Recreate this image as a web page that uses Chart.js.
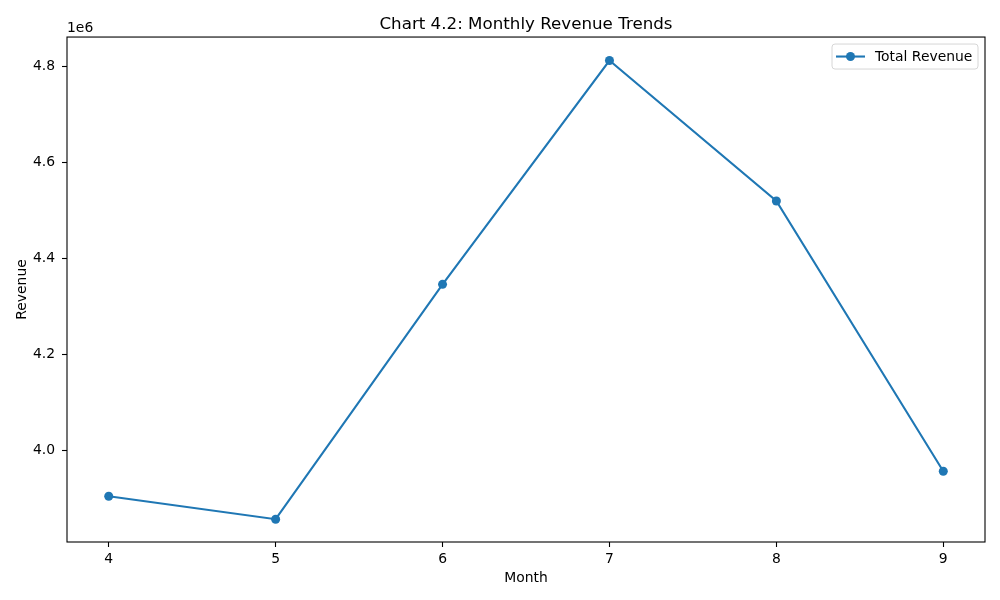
<!DOCTYPE html>
<html>
<head>
<meta charset="utf-8">
<script src="https://cdn.jsdelivr.net/npm/chart.js@4"></script>
<style>
  body { margin: 0; background: #fff; }
  #wrap { width: 1000px; height: 600px; }
</style>
</head>
<body>
<div id="wrap"><canvas id="chart"></canvas></div>
<script>
// values
const months = [4, 5, 6, 7, 8, 9];
const revenue = [3904000, 3856000, 4346000, 4813000, 4520000, 3956000];
const xTicks = [4, 5, 6, 7, 8, 9];
const yTicks = [4.0e6, 4.2e6, 4.4e6, 4.6e6, 4.8e6];

const FONT = "'DejaVu Sans', sans-serif";
const BLUE = "#1f77b4";

// axes frame, offset text and the inside legend (matplotlib style)
const extras = {
  id: "extras",
  afterDraw(chart) {
    const { ctx, chartArea: a } = chart;
    ctx.save();
    ctx.strokeStyle = "#000";
    ctx.lineWidth = 1.1;
    ctx.strokeRect(a.left, a.top, a.right - a.left, a.bottom - a.top);

    ctx.fillStyle = "#000";
    ctx.font = "13.9px " + FONT;
    ctx.textAlign = "left";
    ctx.textBaseline = "bottom";
    ctx.fillText("1e6", a.left, a.top - 2);

    // legend
    const ds = chart.data.datasets[0];
    const bx = a.right - 153, by = a.top + 7, bw = 146, bh = 25;
    ctx.beginPath();
    ctx.roundRect(bx, by, bw, bh, 3);
    ctx.fillStyle = "rgba(255,255,255,0.8)";
    ctx.fill();
    ctx.strokeStyle = "#d6d6d6";
    ctx.lineWidth = 1;
    ctx.stroke();
    const ly = by + bh / 2;
    ctx.strokeStyle = BLUE;
    ctx.lineWidth = 2.1;
    ctx.beginPath();
    ctx.moveTo(bx + 4, ly);
    ctx.lineTo(bx + 33, ly);
    ctx.stroke();
    ctx.fillStyle = BLUE;
    ctx.beginPath();
    ctx.arc(bx + 18.5, ly, 4.5, 0, Math.PI * 2);
    ctx.fill();
    ctx.fillStyle = "#000";
    ctx.textBaseline = "middle";
    ctx.fillText(ds.label, bx + 43, ly + 1);
    ctx.restore();
  }
};

new Chart(document.getElementById("chart"), {
  type: "line",
  data: {
    datasets: [{
      label: "Total Revenue",
      data: months.map((m, i) => ({ x: m, y: revenue[i] })),
      borderColor: BLUE,
      backgroundColor: BLUE,
      borderWidth: 2.1,
      pointRadius: 4.5,
      pointHoverRadius: 4.5,
      pointBorderWidth: 0,
      tension: 0,
      fill: false
    }]
  },
  options: {
    responsive: true,
    maintainAspectRatio: false,
    animation: false,
    layout: { padding: { left: 0, right: 15, top: 0, bottom: 0 } },
    plugins: {
      legend: { display: false },
      tooltip: { enabled: false },
      title: {
        display: true,
        fullSize: false,
        text: "Chart 4.2: Monthly Revenue Trends",
        color: "#000",
        font: { family: FONT, size: 16.7, weight: "normal" },
        padding: { top: 14.5, bottom: 2.5 }
      }
    },
    scales: {
      x: {
        type: "linear",
        min: 3.75,
        max: 9.25,
        afterFit: (s) => { s.height = 58; },
        afterBuildTicks: (s) => { s.ticks = xTicks.map((v) => ({ value: v })); },
        ticks: {
          color: "#000",
          font: { family: FONT, size: 13.9 },
          padding: 4,
          maxRotation: 0,
          callback: (v) => String(v)
        },
        grid: { drawOnChartArea: false, drawTicks: true, tickLength: 5, tickColor: "#000", tickWidth: 1.1 },
        border: { display: false },
        title: {
          display: true,
          text: "Month",
          color: "#000",
          font: { family: FONT, size: 13.9 },
          padding: { top: 0, bottom: 13 }
        }
      },
      y: {
        type: "linear",
        min: 3808500,
        max: 4862000,
        afterFit: (s) => { s.width = 67; },
        afterBuildTicks: (s) => { s.ticks = yTicks.map((v) => ({ value: v })); },
        ticks: {
          color: "#000",
          font: { family: FONT, size: 13.9 },
          padding: 7,
          callback: (v) => (v / 1e6).toFixed(1)
        },
        grid: { drawOnChartArea: false, drawTicks: true, tickLength: 5, tickColor: "#000", tickWidth: 1.1 },
        border: { display: false },
        title: {
          display: true,
          text: "Revenue",
          color: "#000",
          font: { family: FONT, size: 13.9 },
          padding: { top: 14.5, bottom: 0 }
        }
      }
    }
  },
  plugins: [extras]
});
</script>
</body>
</html>
